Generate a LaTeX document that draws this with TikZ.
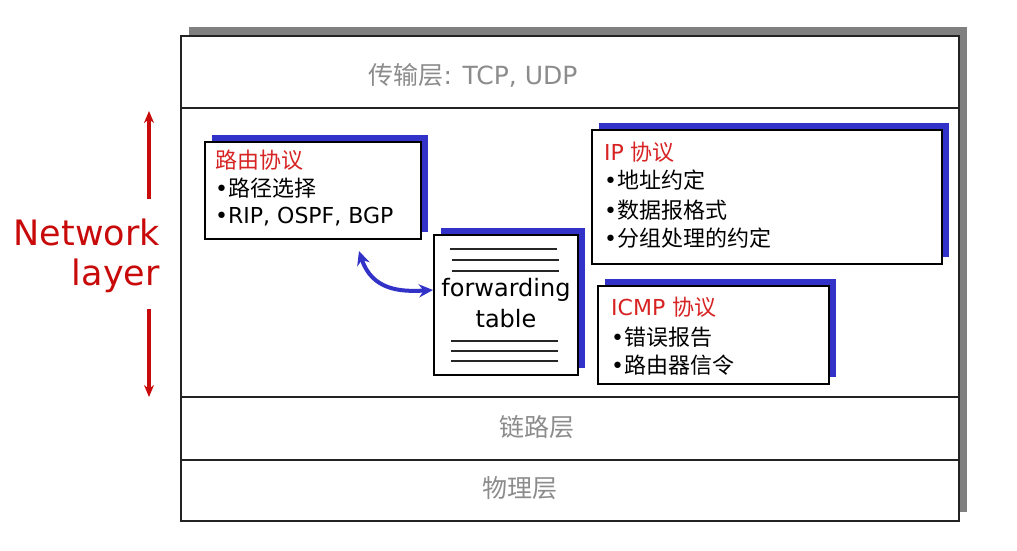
\documentclass[tikz,border=0pt]{standalone}
\usepackage{fontspec}
\setmainfont{DejaVu Sans}
\newfontfamily\cjk{Noto Sans CJK SC}
\usetikzlibrary{shadows,arrows.meta}
\definecolor{netred}{RGB}{200,10,10}
\definecolor{hdred}{RGB}{215,35,35}
\definecolor{shblue}{RGB}{50,50,200}
\definecolor{laygray}{RGB}{140,140,140}
\definecolor{framegray}{RGB}{128,128,128}
\definecolor{framedark}{RGB}{35,35,35}
\begin{document}
\begin{tikzpicture}[x=1pt,y=-1pt,
  framebox/.style={draw=framedark, line width=2.4pt, fill=white, anchor=north west, inner sep=0pt,
    drop shadow={shadow xshift=8pt, shadow yshift=9pt, fill=framegray, opacity=1}},
  protobox/.style={draw=black, line width=2.4pt, fill=white, anchor=north west, inner sep=0pt,
    drop shadow={shadow xshift=7pt, shadow yshift=7pt, fill=shblue, opacity=1}},
  layerline/.style={draw=framedark, line width=2.2pt},
  laytext/.style={text=laygray, inner sep=0pt, font=\fontsize{25}{29}\selectfont},
  boxtext/.style={anchor=west, inner sep=0pt, text=black, font=\fontsize{22}{26}\selectfont},
  headtext/.style={anchor=west, inner sep=0pt, text=hdred, font=\fontsize{22}{26}\selectfont},
  nettext/.style={anchor=east, inner sep=0pt, text=netred, font=\fontsize{35}{40}\selectfont},
  netarrow/.style={draw=netred, line width=3.2pt, -{Stealth[length=12pt,width=10pt]}},
  tabline/.style={draw=black!85, line width=2.2pt},
  fwdarrow/.style={draw=shblue, line width=4pt, {Stealth[length=14pt,width=13pt]}-{Stealth[length=14pt,width=13pt]}}
]
\useasboundingbox (0,0) rectangle (1017,550);

% main frame
\node[framebox, minimum width=778pt, minimum height=485pt] (frame) at (180,35) {};
\draw[layerline] (180,108) -- (958,108);
\draw[layerline] (180,397) -- (958,397);
\draw[layerline] (180,460) -- (958,460);

\node[laytext] (transport) at (473,75) {{\cjk 传输层}: TCP, UDP};
\node[laytext] (link) at (537,427) {\cjk 链路层};
\node[laytext] (phys) at (520,488) {\cjk 物理层};

% routing box
\node[protobox, minimum width=216pt, minimum height=97pt] (routing) at (204,141) {};
\node[headtext] (rt0) at (215,160) {\cjk 路由协议};
\node[boxtext] (rt1) at (215,188) {•{\cjk 路径选择}};
\node[boxtext] (rt2) at (215,217) {•RIP, OSPF, BGP};

% IP box
\node[protobox, minimum width=350pt, minimum height=134pt] (ip) at (591,129) {};
\node[headtext] (ip0) at (604,152) {IP {\cjk 协议}};
\node[boxtext] (ip1) at (604,180) {•{\cjk 地址约定}};
\node[boxtext] (ip2) at (604,210) {•{\cjk 数据报格式}};
\node[boxtext] (ip3) at (604,238) {•{\cjk 分组处理的约定}};

% ICMP box
\node[protobox, minimum width=231pt, minimum height=98pt] (icmp) at (597,285) {};
\node[headtext] (ic0) at (611,307) {ICMP {\cjk 协议}};
\node[boxtext] (ic1) at (611,337) {•{\cjk 错误报告}};
\node[boxtext] (ic2) at (611,365) {•{\cjk 路由器信令}};

% forwarding table
\node[protobox, minimum width=144pt, minimum height=140pt] (fwd) at (433,234) {};
\node[inner sep=0pt, align=center, font=\fontsize{24}{31}\selectfont] (fwdtext) at (506,303) {forwarding\\table};
\draw[tabline, line width=2.6pt] (450,249) -- (557,249);
\draw[tabline] (452,260) -- (559,260);
\draw[tabline] (452,271) -- (559,271);
\draw[tabline] (451,341) -- (558,341);
\draw[tabline] (451,351) -- (558,351);
\draw[tabline] (451,361) -- (558,361);

% curved arrow
\coordinate (arrstart) at (359,251);
\draw[fwdarrow] (arrstart) .. controls (372,290) and (400,292) .. (fwd.west |- 0,290);

% network layer label
\node[nettext] (net1) at (160,232) {Network};
\node[nettext] (net2) at (160,276) {layer};
\coordinate (uptop) at (149,111);
\coordinate (upbot) at (149,199);
\coordinate (dntop) at (149,309);
\coordinate (dnbot) at (149,397);
\draw[netarrow] (upbot) -- (uptop);
\draw[netarrow] (dntop) -- (dnbot);
\end{tikzpicture}
\end{document}
